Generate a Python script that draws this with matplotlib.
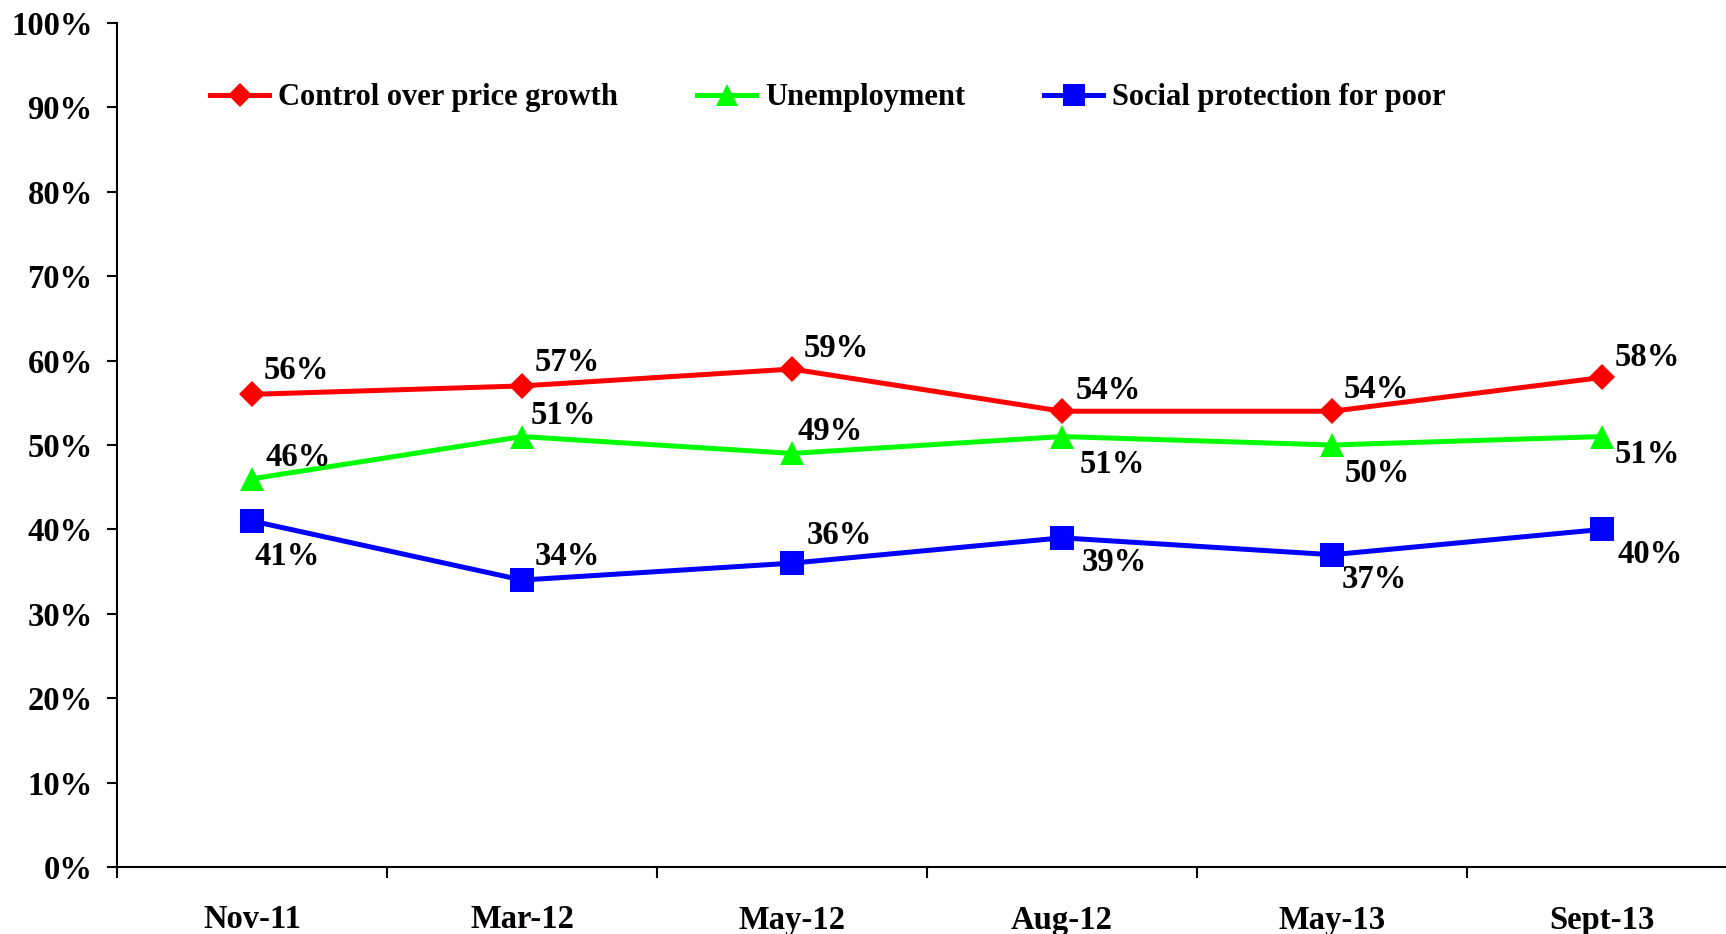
import matplotlib
matplotlib.use("Agg")
import matplotlib.pyplot as plt
from matplotlib.ticker import FixedLocator, PercentFormatter

categories = ["Nov-11", "Mar-12", "May-12", "Aug-12", "May-13", "Sept-13"]
price_growth = [56, 57, 59, 54, 54, 58]
unemployment = [46, 51, 49, 51, 50, 51]
social_protection = [41, 34, 36, 39, 37, 40]
y_ticks = [0, 10, 20, 30, 40, 50, 60, 70, 80, 90, 100]

# label offsets in pixels (dx, dy; dy positive = downward)
off_price = [(12, -24), (13, -23), (12, -21), (14, -21), (12, -22), (13, -20)]
off_unemp = [(13, -21), (9, -21), (6, -22), (18, 28), (13, 28), (13, 18)]
off_social = [(2, 36), (13, -24), (15, -28), (20, 25), (10, 25), (15, 25)]

plt.rcParams['font.family'] = ['Liberation Serif', 'DejaVu Serif']
plt.rcParams['font.weight'] = 'bold'

W, H = 1726, 934
fig = plt.figure(figsize=(W / 100, H / 100), dpi=100)
ax = fig.add_axes([117 / W, 1 - 867 / H, (1737 - 117) / W, (867 - 23) / H])

x = list(range(len(categories)))
series = [
    ("Control over price growth", price_growth, "#FF0000", "D", 13.5, off_price),
    ("Unemployment", unemployment, "#00FF00", "^", 17.5, off_unemp),
    ("Social protection for poor", social_protection, "#0000FF", "s", 17, off_social),
]
fs = 23.5
lfs = 22.0
for name, vals, col, mk, ms, offs in series:
    ax.plot(x, vals, color=col, lw=3.6, marker=mk, ms=ms, mew=0, label=name,
            clip_on=False, zorder=3)
    for xi, v, (dx, dy) in zip(x, vals, offs):
        ax.annotate(f"{v}%", (xi, v), xytext=(dx, -dy), textcoords='offset pixels',
                    ha='left', va='center', fontsize=fs, fontweight='bold',
                    color='black', zorder=4)

ax.set_xlim(-0.5, len(categories) - 0.5)
ax.set_ylim(0, 100)
ax.yaxis.set_major_locator(FixedLocator(y_ticks))
ax.yaxis.set_major_formatter(PercentFormatter(decimals=0))
ax.set_xticks(x)
ax.set_xticklabels(categories)
ax.set_xticks([i - 0.5 for i in range(len(categories) + 1)], minor=True)
ax.tick_params(axis='x', which='major', length=0, pad=27, labelsize=fs)
ax.tick_params(axis='x', which='minor', length=8, width=1.5, direction='out')
ax.tick_params(axis='y', which='major', length=7.5, width=1.5, direction='out',
               pad=10, labelsize=fs)
for lab in ax.get_xticklabels() + ax.get_yticklabels():
    lab.set_fontweight('bold')

for s in ['top', 'right']:
    ax.spines[s].set_visible(False)
for s in ['left', 'bottom']:
    ax.spines[s].set_linewidth(1.5)

leg = fig.legend(loc='center left', bbox_to_anchor=(210 / W, 1 - 98 / H), ncol=3,
                 frameon=False, handlelength=1.94, handletextpad=0.29,
                 columnspacing=2.58, borderpad=0, borderaxespad=0, markerscale=0.92,
                 prop={'weight': 'bold', 'size': lfs})

fig.savefig("out.png", dpi=100)
